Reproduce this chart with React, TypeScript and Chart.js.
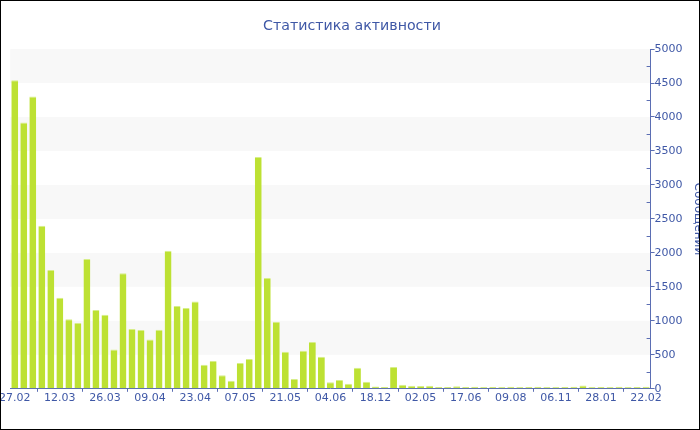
import React, { useEffect, useRef } from "react";
import { Chart, registerables } from "chart.js";

Chart.register(...registerables);

// Dates of each activity bucket (every fifth one is labelled on the axis)
const categories: string[] = [
  "27.02", "01.03", "04.03", "06.03", "09.03",
  "12.03", "15.03", "18.03", "20.03", "23.03",
  "26.03", "29.03", "01.04", "03.04", "06.04",
  "09.04", "12.04", "15.04", "17.04", "20.04",
  "23.04", "26.04", "29.04", "01.05", "04.05",
  "07.05", "10.05", "13.05", "15.05", "18.05",
  "21.05", "24.05", "27.05", "29.05", "01.06",
  "04.06", "12.07", "20.08", "30.09", "06.11",
  "18.12", "15.01", "12.02", "14.03", "04.04",
  "02.05", "11.05", "20.05", "29.05", "08.06",
  "17.06", "28.06", "08.07", "19.07", "29.07",
  "09.08", "27.08", "14.09", "02.10", "19.10",
  "06.11", "23.11", "09.12", "26.12", "11.01",
  "28.01", "02.02", "07.02", "12.02", "17.02",
  "22.02",
];

// Messages per bucket
const messages: number[] = [
  4540, 3920, 4300, 2400, 1750,
  1340, 1025, 970, 1910, 1160,
  1090, 580, 1700, 880, 865,
  725, 870, 2030, 1220, 1190,
  1285, 355, 410, 200, 120,
  380, 440, 3410, 1630, 985,
  545, 145, 560, 690, 470,
  95, 130, 75, 310, 105,
  35, 28, 320, 60, 45,
  42, 44, 28, 28, 38,
  28, 30, 26, 28, 27,
  30, 26, 28, 30, 27,
  26, 28, 30, 48, 27,
  28, 26, 30, 27, 28,
  30,
];

const yTicks: number[] = [0, 500, 1000, 1500, 2000, 2500, 3000, 3500, 4000, 4500, 5000];

const TEXT = "#3f58a6";
const AXIS = "#5b6eb3";
const BAR = "#bde133";
const BAR_EDGE = "#d7ee8a";
const BAND = "#f8f8f8";
const FONT = "'DejaVu Sans', Verdana, sans-serif";

// Alternating horizontal stripes behind the bars plus the small inner ticks on the value axis
const stripesPlugin = {
  id: "stripes",
  beforeDraw(chart: any) {
    const { ctx, chartArea, scales } = chart;
    const y = scales.y;
    ctx.save();
    ctx.fillStyle = BAND;
    for (let i = 1; i < yTicks.length - 1; i += 2) {
      const top = y.getPixelForValue(yTicks[i + 1]);
      const bottom = y.getPixelForValue(yTicks[i]);
      ctx.fillRect(chartArea.left, top, chartArea.right - chartArea.left, bottom - top);
    }
    ctx.restore();
  },
  afterDraw(chart: any) {
    const { ctx, chartArea, scales } = chart;
    const y = scales.y;
    ctx.save();
    ctx.strokeStyle = AXIS;
    ctx.lineWidth = 1;
    ctx.beginPath();
    for (let i = 0; i < yTicks.length - 1; i++) {
      const py = Math.round(y.getPixelForValue((yTicks[i] + yTicks[i + 1]) / 2)) + 0.5;
      ctx.moveTo(chartArea.right - 4, py);
      ctx.lineTo(chartArea.right, py);
    }
    ctx.stroke();
    ctx.restore();
  },
};

function ActivityChart() {
  const ref = useRef<HTMLCanvasElement | null>(null);

  useEffect(() => {
    if (!ref.current) return;
    const chart = new Chart(ref.current, {
      type: "bar",
      data: {
        labels: categories,
        datasets: [
          {
            label: "Сообщений",
            data: messages,
            backgroundColor: BAR,
            borderColor: BAR_EDGE,
            borderWidth: { top: 1, left: 0, right: 0, bottom: 0 },
            borderSkipped: "bottom",
            barPercentage: 0.76,
            categoryPercentage: 1,
          },
        ],
      },
      options: {
        animation: false,
        responsive: false,
        maintainAspectRatio: false,
        devicePixelRatio: 1,
        layout: { padding: { top: 0, left: 0, right: 0, bottom: 24 } },
        plugins: {
          legend: { display: false },
          tooltip: { enabled: true },
          title: {
            display: true,
            text: "Статистика активности",
            color: TEXT,
            font: { family: FONT, size: 14.2, weight: "normal" },
            padding: { top: 17, bottom: 14 },
          },
        },
        scales: {
          x: {
            type: "category",
            offset: true,
            border: { display: true, color: AXIS, width: 1 },
            grid: {
              display: true,
              drawOnChartArea: false,
              drawTicks: true,
              tickLength: 3,
              color: AXIS,
            },
            ticks: {
              autoSkip: false,
              maxRotation: 0,
              minRotation: 0,
              padding: 0,
              color: TEXT,
              font: { family: FONT, size: 11 },
              callback: (_v: any, i: number) => (i % 5 === 0 ? categories[i] : null),
            },
          },
          y: {
            position: "right",
            min: yTicks[0],
            max: yTicks[yTicks.length - 1],
            border: { display: true, color: AXIS, width: 1 },
            grid: {
              display: true,
              drawOnChartArea: false,
              drawTicks: true,
              tickLength: 4,
              color: AXIS,
            },
            afterBuildTicks: (scale: any) => {
              scale.ticks = yTicks.map((v) => ({ value: v }));
            },
            ticks: {
              padding: 0,
              color: TEXT,
              font: { family: FONT, size: 11 },
              callback: (v: any) => String(v),
            },
            title: {
              display: true,
              text: "Сообщений",
              color: TEXT,
              font: { family: FONT, size: 12 },
              padding: { top: 0, bottom: 8 },
            },
          },
        },
      },
      plugins: [stripesPlugin],
    });
    return () => chart.destroy();
  }, []);

  return (
    <div
      style={{
        position: "fixed",
        left: 0,
        top: 0,
        width: 700,
        height: 430,
        boxSizing: "border-box",
        border: "1px solid #000",
        overflow: "hidden",
        background: "#fff",
      }}
    >
      <canvas
        ref={ref}
        width={706}
        height={428}
        style={{ position: "absolute", left: -2, top: 0, width: 706, height: 428 }}
      />
    </div>
  );
}

export default function App() {
  return <ActivityChart />;
}
